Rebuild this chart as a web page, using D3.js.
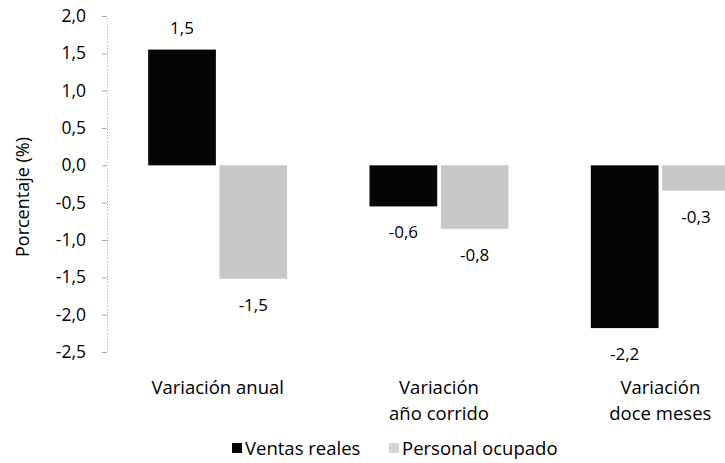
<!DOCTYPE html>
<html>
<head>
<meta charset="utf-8">
<script src="https://cdn.jsdelivr.net/npm/d3@7"></script>
<style>
  body { margin: 0; background: #fff; }
  text { font-family: "Open Sans", sans-serif; fill: #000; }
</style>
</head>
<body>
<div id="chart"></div>
<script>
const categories = ["Variación anual", "Variación\naño corrido", "Variación\ndoce meses"];
const seriesNames = ["Ventas reales", "Personal ocupado"];
const ventasReales = [1.55, -0.55, -2.18];
const personalOcupado = [-1.52, -0.85, -0.34];
const ventasLabels = ["1,5", "-0,6", "-2,2"];
const personalLabels = ["-1,5", "-0,8", "-0,3"];
const yTicks = [2.0, 1.5, 1.0, 0.5, 0.0, -0.5, -1.0, -1.5, -2.0, -2.5];

const width = 725, height = 463;
const colors = ["#050505", "#c8c8c8"];

const svg = d3.select("#chart").append("svg")
  .attr("width", width)
  .attr("height", height);

// y scale: 2,0 at top, -2,5 at bottom
const y = d3.scaleLinear().domain([-2.5, 2.0]).range([352, 16]);

// bands continue past the right edge (chart is cropped in the original)
const x0 = d3.scaleBand().domain(categories).range([107, 771]).paddingInner(0).paddingOuter(0);
const x1 = d3.scaleBand().domain(seriesNames).range([0, 139]).paddingInner(0.05);
const groupOffset = (x0.bandwidth() - 139) / 2;

// y axis
const yAxis = svg.append("g")
  .attr("transform", "translate(107,0)")
  .call(d3.axisLeft(y).tickValues(yTicks).tickSize(5).tickPadding(16)
    .tickFormat(d => d3.format(".1f")(d).replace(".", ",").replace("−", "-")));
yAxis.select(".domain").attr("stroke", "#aaa").attr("stroke-dasharray", "1,2");
yAxis.selectAll(".tick line").attr("stroke", "#aaa");
yAxis.selectAll(".tick text").style("font-size", "17.5px").attr("fill", "#000");

svg.append("text")
  .attr("transform", "translate(29,197) rotate(-90)")
  .attr("text-anchor", "middle")
  .style("font-size", "18px")
  .text("Porcentaje (%)");

const series = [
  { name: seriesNames[0], values: ventasReales, labels: ventasLabels, color: colors[0] },
  { name: seriesNames[1], values: personalOcupado, labels: personalLabels, color: colors[1] }
];

series.forEach(s => {
  const g = svg.append("g");
  const bx = (d, i) => x0(categories[i]) + groupOffset + x1(s.name);
  g.selectAll("rect")
    .data(s.values)
    .enter()
    .append("rect")
    .attr("x", bx)
    .attr("y", d => y(Math.max(0, d)))
    .attr("width", x1.bandwidth())
    .attr("height", d => Math.abs(y(d) - y(0)))
    .attr("fill", s.color);

  g.selectAll("text")
    .data(s.values)
    .enter()
    .append("text")
    .attr("x", (d, i) => bx(d, i) + x1.bandwidth() / 2)
    .attr("y", d => d >= 0 ? y(d) - 16 : y(d) + 32)
    .attr("text-anchor", "middle")
    .style("font-size", "17px")
    .text((d, i) => s.labels[i]);
});

// category labels
categories.forEach(c => {
  const lines = c.split("\n");
  const t = svg.append("text")
    .attr("x", x0(c) + x0.bandwidth() / 2)
    .attr("y", 394)
    .attr("text-anchor", "middle")
    .style("font-size", "18.5px");
  lines.forEach((l, i) => {
    t.append("tspan")
      .attr("x", x0(c) + x0.bandwidth() / 2)
      .attr("dy", i === 0 ? 0 : 26)
      .text(l);
  });
});

// legend
const legendX = [232, 389];
series.forEach((s, i) => {
  svg.append("rect")
    .attr("x", legendX[i])
    .attr("y", 443)
    .attr("width", 10)
    .attr("height", 10)
    .attr("fill", i === 0 ? s.color : "#d6d6d6");
  svg.append("text")
    .attr("x", legendX[i] + 13)
    .attr("y", 455)
    .style("font-size", "18.5px")
    .text(s.name);
});
</script>
</body>
</html>
